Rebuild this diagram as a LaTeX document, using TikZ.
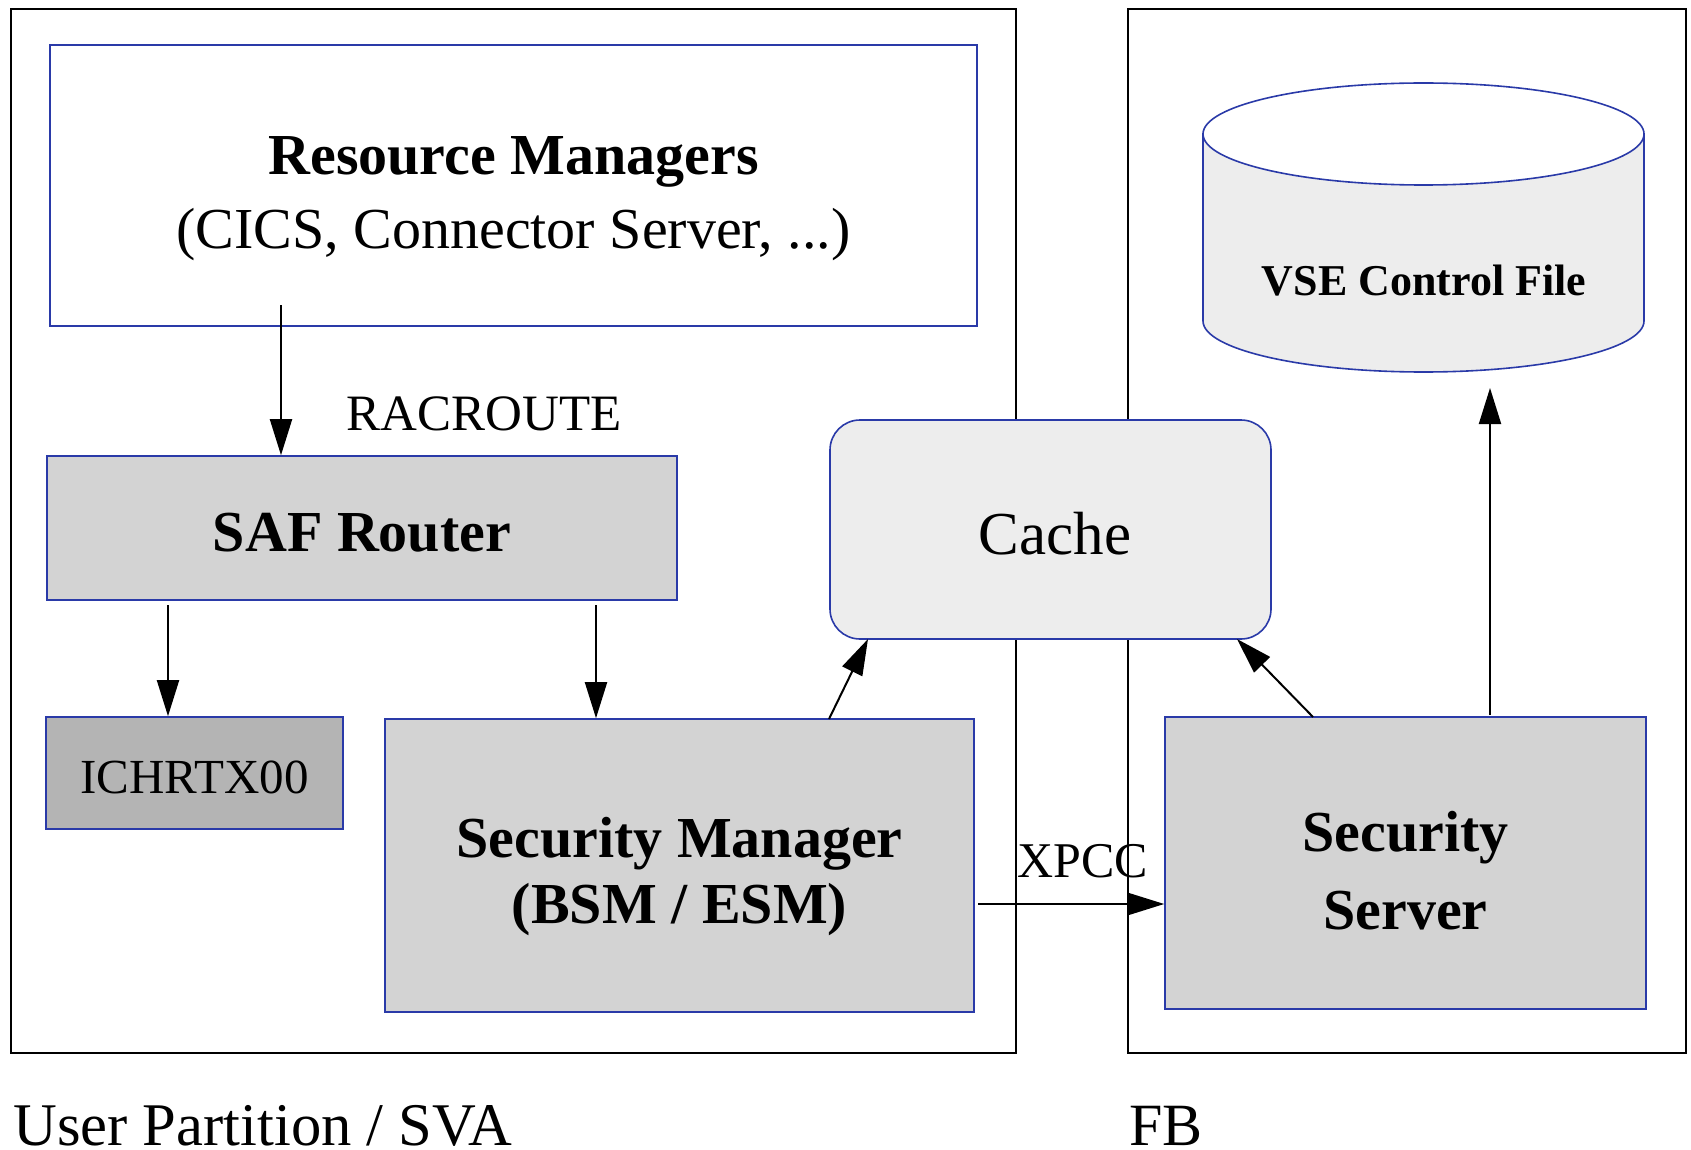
\documentclass[tikz,border=0pt]{standalone}
\usepackage{fontspec}
\setmainfont{Liberation Serif}
\usetikzlibrary{positioning,arrows.meta,calc}
\definecolor{boxblue}{RGB}{42,58,168}
\definecolor{midgray}{RGB}{211,211,211}
\definecolor{darkgray2}{RGB}{180,180,180}
\definecolor{lightgray2}{RGB}{237,237,237}
\tikzstyle{blk}=[draw=boxblue, line width=0.8pt, inner sep=0pt]
\tikzstyle{txt}=[align=center, inner sep=0pt]
\tikzstyle{partbox}=[draw=black, line width=1pt]
\tikzstyle{arr}=[-{Triangle[length=18pt,width=11pt]}, line width=1pt]

\begin{document}
\begin{tikzpicture}[x=0.5pt,y=-0.5pt]
  \useasboundingbox (0,0) rectangle (1691,1150);
  % partitions
  \draw[partbox] (11,9) rectangle (1016,1053);
  \draw[partbox] (1128,9) rectangle (1686,1053);
%
  \node[blk, fill=white, minimum width=463.5pt, minimum height=140.5pt] (rm) at (513.5,185.5) {};
  \node[txt, font=\fontsize{29}{37}\selectfont, yshift=-6.5pt] (rmtxt) at (rm)
    {\textbf{Resource Managers}\\(CICS, Connector Server, ...)};
  \node[blk, fill=midgray, minimum width=315pt, minimum height=72pt] (saf) at (362,528) {};
  \node[txt, font=\fontsize{29}{35}\selectfont\bfseries, yshift=-2.2pt] (saftxt) at (saf) {SAF Router};
  \node[blk, fill=darkgray2, minimum width=148.5pt, minimum height=56pt] (ichr) at (194.5,773) {};
  \node[txt, font=\fontsize{24.5}{29}\selectfont, yshift=-2.2pt] (ichrtxt) at (ichr) {ICHRTX00};
  \node[blk, fill=midgray, minimum width=294.5pt, minimum height=146.5pt] (secmgr) at (679.5,865.5) {};
  \node[txt, font=\fontsize{29}{33}\selectfont\bfseries, yshift=-5.7pt] (secmgrtxt) at (secmgr)
    {Security Manager\\(BSM / ESM)};
  \node[blk, fill=lightgray2, rounded corners=15pt, minimum width=220.5pt,
    minimum height=109.5pt] (cache) at (1050.5,529.5) {};
  \node[txt, font=\fontsize{30.5}{36}\selectfont, xshift=2.2pt, yshift=-2.2pt] (cachetxt) at (cache) {Cache};
  \node[blk, fill=midgray, minimum width=240.5pt, minimum height=146pt] (secsrv) at (1405.5,863) {};
  \node[txt, font=\fontsize{29}{38.7}\selectfont\bfseries, yshift=-3.8pt] (secsrvtxt) at (secsrv)
    {Security\\Server};
%
  % control file
  \filldraw[draw=boxblue, line width=0.8pt, fill=lightgray2] (1203,134) -- (1203,321)
    arc[start angle=180, end angle=360, x radius=110.25pt, y radius=25.5pt] -- (1644,134) -- cycle;
  \filldraw[draw=boxblue, line width=0.8pt, fill=white] (1423.5,134)
    ellipse [x radius=110.25pt, y radius=25.5pt];
  \node[font=\fontsize{22}{26}\selectfont\bfseries, anchor=base] (vse) at (1424,295) {VSE Control File};
%
  \node[font=\fontsize{25.5}{30}\selectfont, anchor=base] (racroute) at (484,430) {RACROUTE};
  \node[font=\fontsize{25}{30}\selectfont, anchor=base] (xpcc) at (1083,877) {XPCC};
  \node[font=\fontsize{30.3}{35}\selectfont, anchor=base west, inner sep=0pt] (uplabel) at (13,1145) {User Partition / SVA};
  \node[font=\fontsize{30}{35}\selectfont, anchor=base west, inner sep=0pt] (fblabel) at (1129,1145) {FB};
%
  \coordinate (rmout) at (281,305);
  \coordinate (safa) at (168,605);
  \coordinate (safb) at (596,605);
  \coordinate (smout) at (829,719);
  \coordinate (cachea) at (868,639);
  \coordinate (ssout) at (1313,717);
  \coordinate (cacheb) at (1237,639);
  \coordinate (ssup) at (1490,715);
  \coordinate (vsein) at (1490,388);
  \coordinate (xpccout) at (978,904);
  \draw[arr] (rmout) -- (rmout |- saf.north);
  \draw[arr] (safa) -- (safa |- ichr.north);
  \draw[arr] (safb) -- (safb |- secmgr.north);
  \draw[arr] (smout) -- (cachea);
  \draw[arr] (ssout) -- (cacheb);
  \draw[arr] (ssup) -- (vsein);
  \draw[arr] (xpccout) -- (xpccout -| secsrv.west);
\end{tikzpicture}
\end{document}
